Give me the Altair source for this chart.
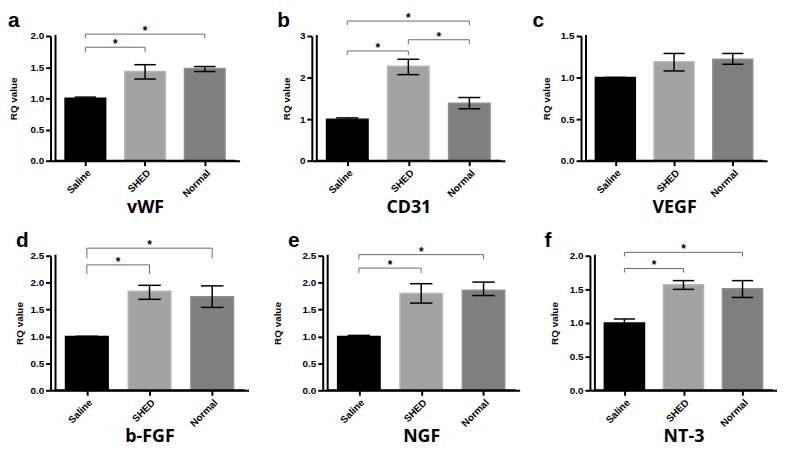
import json
import altair as alt
import pandas as pd

# ---------------- data ----------------
groups = ["Saline", "SHED", "Normal"]
genes = ["vWF", "CD31", "VEGF", "b-FGF", "NGF", "NT-3"]
letters = ["a", "b", "c", "d", "e", "f"]
y_max = [2.0, 3.0, 1.5, 2.5, 2.5, 2.0]
y_step = [0.5, 1.0, 0.5, 0.5, 0.5, 0.5]
y_format = [".1f", "d", ".1f", ".1f", ".1f", ".1f"]

vwf_mean = [1.00, 1.43, 1.48]
vwf_hi = [1.02, 1.54, 1.51]
vwf_lo = [0.98, 1.31, 1.43]
vwf_sig = [(0, 1, 1.82, 0.08), (0, 2, 2.03, 0.07)]

cd31_mean = [1.00, 2.27, 1.38]
cd31_hi = [1.03, 2.44, 1.52]
cd31_lo = [0.97, 2.07, 1.25]
cd31_sig = [(0, 1, 2.64, 0.10), (1, 2, 2.91, 0.11), (0, 2, 3.36, 0.10)]

vegf_mean = [1.00, 1.19, 1.22]
vegf_hi = [1.00, 1.29, 1.29]
vegf_lo = [1.00, 1.08, 1.16]
vegf_sig = []

bfgf_mean = [1.00, 1.84, 1.74]
bfgf_hi = [1.00, 1.95, 1.94]
bfgf_lo = [1.00, 1.69, 1.54]
bfgf_sig = [(0, 1, 2.33, 0.17), (0, 2, 2.64, 0.19)]

ngf_mean = [1.00, 1.80, 1.86]
ngf_hi = [1.02, 1.98, 2.01]
ngf_lo = [0.98, 1.62, 1.76]
ngf_sig = [(0, 1, 2.27, 0.09), (0, 2, 2.52, 0.09)]

nt3_mean = [1.00, 1.57, 1.51]
nt3_hi = [1.06, 1.63, 1.63]
nt3_lo = [0.94, 1.50, 1.38]
nt3_sig = [(0, 1, 1.81, 0.06), (0, 2, 2.05, 0.06)]

# ---------------- style / layout ----------------
bar_fill = ["#000000", "#a3a3a3", "#7f7f7f"]
bar_edge = ["#000000", "#b5b5b5", "#8f8f8f"]
panel_width = [191, 195, 188, 200, 199, 189]
left_room = [43, 73, 77, 35, 75, 71]
ytitle_pad = [11, 0, 9, 5, 20, 10]
letter_dx = [-43, -35, -49, -35, -35, -46]
row_height = [126, 136]
TOP_ROOM = 26
ARIAL = "Liberation Sans"
LINE_W = 2


def panel(k, mean, hi, lo, sig, height):
    df = pd.DataFrame({
        "group": groups, "idx": list(range(len(groups))),
        "mean": mean, "hi": hi, "lo": lo,
        "fill": bar_fill, "edge": bar_edge,
    })
    x_dom = [-0.5, len(groups) - 0.5]
    xs = alt.Scale(domain=x_dom, nice=False, zero=False)
    ys = alt.Scale(domain=[0, y_max[k]], nice=False, zero=True)
    nt = int(round(y_max[k] / y_step[k]))
    yticks = [round(i * y_step[k], 3) for i in range(nt + 1)]
    xaxis = alt.Axis(
        values=list(range(len(groups))),
        labelExpr=json.dumps(groups) + "[datum.value]",
        title=genes[k],
        domain=True, domainColor="black", domainWidth=LINE_W,
        ticks=True, tickColor="black", tickWidth=LINE_W, tickSize=5,
        labelAngle=-45, labelAlign="right", labelBaseline="top",
        labelOverlap=False, labelFlush=False, labelPadding=2,
        minExtent=32, maxExtent=32, titlePadding=6,
    )
    yaxis = alt.Axis(
        values=yticks, format=y_format[k], title="RQ value",
        domain=True, domainColor="black", domainWidth=LINE_W,
        ticks=True, tickColor="black", tickWidth=LINE_W, tickSize=5,
        labelOverlap=False, labelPadding=2,
        minExtent=21, maxExtent=21, titlePadding=ytitle_pad[k],
    )

    def X(f):
        return alt.X(f, scale=xs, axis=xaxis)

    def Y(f):
        return alt.Y(f, scale=ys, axis=yaxis)

    base = alt.Chart(df).transform_calculate(
        x0="datum.idx - 0.34", x1="datum.idx + 0.34",
        c0="datum.idx - 0.18", c1="datum.idx + 0.18",
    )
    bars = base.mark_bar(strokeWidth=1.5, orient="vertical").encode(
        x=X("x0:Q"), x2="x1:Q",
        y=Y("mean:Q"), y2=alt.datum(0),
        fill=alt.Fill("fill:N", scale=None),
        stroke=alt.Stroke("edge:N", scale=None),
    )
    stem = base.mark_rule(color="black", strokeWidth=1.5).encode(
        x=X("idx:Q"), y=Y("lo:Q"), y2="hi:Q")
    cap_hi = base.mark_rule(color="black", strokeWidth=1.5).encode(
        x=X("c0:Q"), x2="c1:Q", y=Y("hi:Q"))
    cap_lo = base.mark_rule(color="black", strokeWidth=1.5).encode(
        x=X("c0:Q"), x2="c1:Q", y=Y("lo:Q"))

    # axis lines along the scale domain (drawn on top of the bars)
    frame = alt.Chart(pd.DataFrame({
        "fx0": [x_dom[0]], "fx1": [x_dom[1]], "fy0": [0.0], "fy1": [y_max[k]]}))
    yline = frame.mark_rule(color="black", strokeWidth=LINE_W, strokeCap="square").encode(
        x=X("fx0:Q"), y=Y("fy0:Q"), y2="fy1:Q")
    xline = frame.mark_rule(color="black", strokeWidth=LINE_W, strokeCap="square").encode(
        x=X("fx0:Q"), x2="fx1:Q", y=Y("fy0:Q"))

    layers = [bars, stem, cap_hi, cap_lo, yline, xline]

    if sig:
        sdf = pd.DataFrame({
            "a": [s[0] for s in sig], "b": [s[1] for s in sig],
            "y": [s[2] for s in sig], "drop": [s[3] for s in sig],
        })
        sb = alt.Chart(sdf).transform_calculate(
            xm="(datum.a + datum.b) / 2", yd="datum.y - datum.drop", star="'*'")
        layers += [
            sb.mark_rule(color="#6a6a6a", strokeWidth=1).encode(
                x=X("a:Q"), x2="b:Q", y=Y("y:Q")),
            sb.mark_rule(color="#6a6a6a", strokeWidth=1).encode(
                x=X("a:Q"), y=Y("yd:Q"), y2="y:Q"),
            sb.mark_rule(color="#6a6a6a", strokeWidth=1).encode(
                x=X("b:Q"), y=Y("yd:Q"), y2="y:Q"),
            sb.mark_text(font=ARIAL, fontSize=12, fontWeight="bold", color="black",
                         baseline="alphabetic", dy=1).encode(
                x=X("xm:Q"), y=Y("y:Q"), text="star:N"),
        ]

    letter = alt.Chart(pd.DataFrame({"t": [letters[k]]})).mark_text(
        font=ARIAL, fontSize=21, fontWeight="bold", color="black",
        align="left", baseline="alphabetic",
    ).encode(text="t:N", x=alt.value(letter_dx[k]), y=alt.value(-TOP_ROOM + 17))
    spacer = alt.Chart(pd.DataFrame({"t": [0]})).mark_rule(
        strokeOpacity=0, strokeWidth=1).encode(
        x=alt.value(-left_room[k]), y=alt.value(-TOP_ROOM), y2=alt.value(0))
    layers += [letter, spacer]

    return alt.layer(*layers).properties(width=panel_width[k], height=height)


row1 = alt.hconcat(
    panel(0, vwf_mean, vwf_hi, vwf_lo, vwf_sig, row_height[0]),
    panel(1, cd31_mean, cd31_hi, cd31_lo, cd31_sig, row_height[0]),
    panel(2, vegf_mean, vegf_hi, vegf_lo, vegf_sig, row_height[0]),
    spacing=0,
)
row2 = alt.hconcat(
    panel(3, bfgf_mean, bfgf_hi, bfgf_lo, bfgf_sig, row_height[1]),
    panel(4, ngf_mean, ngf_hi, ngf_lo, ngf_sig, row_height[1]),
    panel(5, nt3_mean, nt3_hi, nt3_lo, nt3_sig, row_height[1]),
    spacing=0,
)
chart = alt.vconcat(row1, row2, spacing=14).properties(
    padding=0, background="white"
).configure_view(stroke=None).configure_axis(
    grid=False,
    labelFont=ARIAL, labelFontWeight="bold", labelFontSize=10, labelColor="black",
).configure_axisX(
    titleFont="Open Sans", titleFontWeight="bold", titleFontSize=18, titleColor="black",
).configure_axisY(
    titleFont=ARIAL, titleFontWeight="bold", titleFontSize=10, titleColor="black",
)

chart.save("out.html", embed_options={"renderer": "svg", "actions": False})
